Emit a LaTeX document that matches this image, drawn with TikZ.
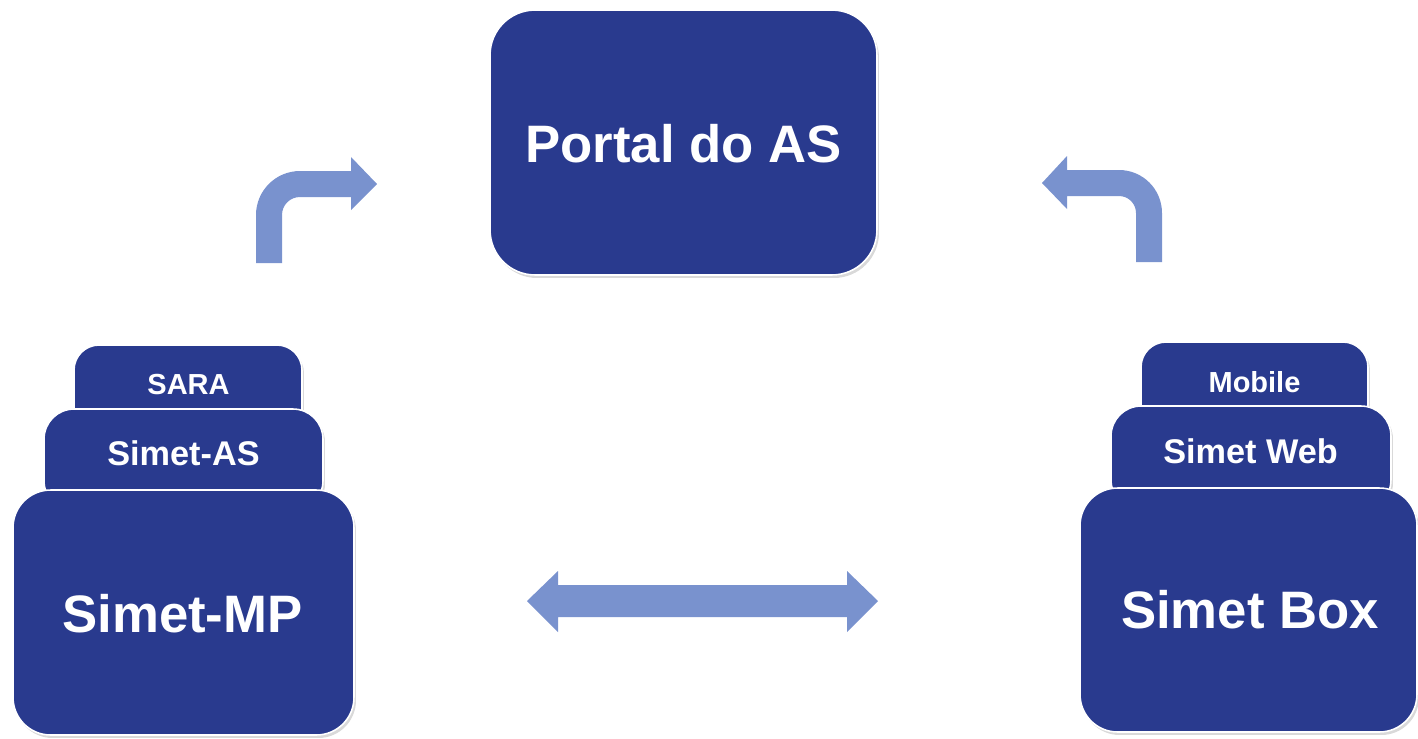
\documentclass[tikz,border=0pt]{standalone}
\usepackage{fontspec}
\setmainfont{Liberation Sans}
\usetikzlibrary{shadows}
\definecolor{boxblue}{RGB}{41,58,142}
\definecolor{arrowblue}{RGB}{121,146,206}
\begin{document}
\begin{tikzpicture}[x=0.02cm,y=-0.02cm,
  blk/.style={draw=white, line width=0.9pt, fill=boxblue, inner sep=0pt,
    drop shadow={opacity=0.3, shadow xshift=0.04cm, shadow yshift=-0.06cm}},
  lbl/.style={text=white, anchor=base, inner sep=0pt},
  bigtxt/.style={lbl, font=\bfseries\fontsize{30}{36}\selectfont},
  midtxt/.style={lbl, font=\bfseries\fontsize{19.5}{23}\selectfont},
  smalltxt/.style={lbl, font=\bfseries\fontsize{16.5}{20}\selectfont},
  barrow/.style={fill=arrowblue, draw=none}]
\useasboundingbox (0,0) rectangle (1418,738);

% Portal
\node[blk, minimum width=7.74cm, minimum height=5.3cm, rounded corners=0.9cm] (portal) at (683.5,142.5) {};
\node[bigtxt] (portaltxt) at (683.5,162) {Portal do AS};

% left stack
\node[blk, minimum width=4.56cm, minimum height=1.8cm, rounded corners=0.5cm] (sara) at (188,390) {};
\node[smalltxt] (saratxt) at (188.5,394) {SARA};
\node[blk, minimum width=5.58cm, minimum height=2.04cm, rounded corners=0.6cm] (simetas) at (183.5,460) {};
\node[midtxt] (simetastxt) at (183.5,465) {Simet-AS};
\node[blk, minimum width=6.82cm, minimum height=4.9cm, rounded corners=0.75cm] (simetmp) at (183.5,612.5) {};
\node[bigtxt] (simetmptxt) at (182.5,632) {Simet-MP};

% right stack
\node[blk, minimum width=4.54cm, minimum height=1.76cm, rounded corners=0.5cm] (mobile) at (1254.5,386) {};
\node[smalltxt] (mobiletxt) at (1254.5,392) {Mobile};
\node[blk, minimum width=5.6cm, minimum height=2.08cm, rounded corners=0.6cm] (simetweb) at (1251,458) {};
\node[midtxt] (simetwebtxt) at (1250.5,463) {Simet Web};
\node[blk, minimum width=6.74cm, minimum height=4.88cm, rounded corners=0.75cm] (simetbox) at (1248.5,610) {};
\node[bigtxt] (simetboxtxt) at (1250,628) {Simet Box};

% left bent arrow
\fill[barrow] (256,263) -- (256,215) .. controls (256,190.7) and (275.7,171) .. (300,171)
  -- (351,171) -- (351,157) -- (377,184) -- (351,210) -- (351,197) -- (300,197)
  .. controls (290,197) and (282,205) .. (282,215) -- (282,263) -- cycle;

% right bent arrow
\fill[barrow] (1162,262) -- (1162,213) .. controls (1162,189.25) and (1142.75,170) .. (1119,170)
  -- (1067,170) -- (1067,156) -- (1042,183) -- (1067,209) -- (1067,196) -- (1119,196)
  .. controls (1128.4,196) and (1136,203.6) .. (1136,213) -- (1136,262) -- cycle;

% double arrow
\fill[barrow] (527,601) -- (558,571) -- (558,585) -- (847,585) -- (847,571) -- (878,601)
  -- (847,632) -- (847,617) -- (558,617) -- (558,632) -- cycle;
\end{tikzpicture}
\end{document}
